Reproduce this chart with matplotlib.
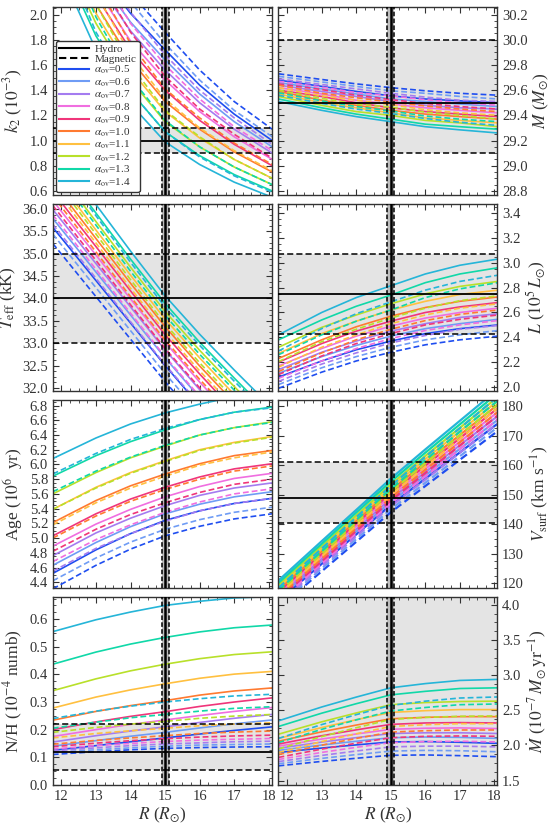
import matplotlib
matplotlib.use('Agg')
import matplotlib.pyplot as plt
from matplotlib.ticker import MultipleLocator, AutoMinorLocator
from matplotlib.lines import Line2D

plt.rcParams['font.family'] = ['Liberation Serif', 'DejaVu Serif']
plt.rcParams['mathtext.fontset'] = 'stix'

# ---------------- data ----------------
R_nodes = [11.75, 13, 14, 15, 16, 17, 18.1]
alphas = [0.5, 0.6, 0.7, 0.8, 0.9, 1.0, 1.1, 1.2, 1.3, 1.4]
colors = ['#1f4ef0', '#6f9cf5', '#a47cf0', '#f06ee0', '#f0357a',
          '#ff7a30', '#ffc040', '#b8e02a', '#10d8a8', '#25b5d8']

k2_hydro = [
    [2.90, 2.36, 2.01, 1.72, 1.44, 1.21, 1.00],
    [2.88, 2.32, 1.94, 1.64, 1.37, 1.15, 0.95],
    [2.86, 2.27, 1.87, 1.56, 1.30, 1.09, 0.90],
    [2.83, 2.21, 1.79, 1.48, 1.23, 1.03, 0.85],
    [2.80, 2.15, 1.72, 1.40, 1.16, 0.97, 0.80],
    [2.76, 2.08, 1.64, 1.31, 1.09, 0.91, 0.75],
    [2.72, 2.01, 1.56, 1.23, 1.02, 0.85, 0.70],
    [2.66, 1.93, 1.48, 1.15, 0.95, 0.79, 0.65],
    [2.58, 1.83, 1.39, 1.07, 0.88, 0.73, 0.60],
    [2.48, 1.72, 1.29, 0.99, 0.81, 0.67, 0.55]]
k2_mag = [
    [3.13, 2.55, 2.17, 1.86, 1.56, 1.31, 1.09],
    [3.11, 2.51, 2.10, 1.77, 1.48, 1.24, 1.03],
    [3.09, 2.45, 2.02, 1.68, 1.40, 1.18, 0.97],
    [3.06, 2.39, 1.93, 1.60, 1.33, 1.11, 0.92],
    [3.02, 2.32, 1.86, 1.51, 1.25, 1.05, 0.86],
    [2.98, 2.25, 1.77, 1.41, 1.18, 0.98, 0.81],
    [2.94, 2.17, 1.68, 1.33, 1.10, 0.92, 0.76],
    [2.87, 2.08, 1.60, 1.24, 1.03, 0.85, 0.70],
    [2.79, 1.98, 1.50, 1.16, 0.95, 0.79, 0.65],
    [2.68, 1.86, 1.39, 1.07, 0.87, 0.72, 0.59]]

mass_hydro = [
    [29.68, 29.63, 29.59, 29.555, 29.53, 29.515, 29.50],
    [29.66, 29.61, 29.57, 29.53, 29.51, 29.49, 29.47],
    [29.64, 29.59, 29.55, 29.51, 29.48, 29.46, 29.45],
    [29.62, 29.57, 29.52, 29.49, 29.46, 29.44, 29.42],
    [29.60, 29.55, 29.50, 29.46, 29.43, 29.41, 29.39],
    [29.59, 29.52, 29.48, 29.44, 29.41, 29.39, 29.37],
    [29.57, 29.50, 29.46, 29.42, 29.38, 29.36, 29.34],
    [29.55, 29.48, 29.43, 29.40, 29.36, 29.34, 29.31],
    [29.53, 29.46, 29.41, 29.37, 29.33, 29.31, 29.29],
    [29.51, 29.44, 29.39, 29.35, 29.31, 29.285, 29.26]]
mass_mag = [
    [29.73, 29.685, 29.65, 29.62, 29.595, 29.575, 29.56],
    [29.71, 29.665, 29.63, 29.595, 29.575, 29.55, 29.53],
    [29.69, 29.645, 29.61, 29.575, 29.545, 29.52, 29.51],
    [29.67, 29.625, 29.58, 29.555, 29.525, 29.50, 29.48],
    [29.65, 29.605, 29.56, 29.525, 29.495, 29.47, 29.45],
    [29.64, 29.575, 29.54, 29.505, 29.475, 29.45, 29.43],
    [29.62, 29.555, 29.52, 29.485, 29.445, 29.42, 29.40],
    [29.60, 29.535, 29.49, 29.465, 29.425, 29.40, 29.37],
    [29.58, 29.515, 29.47, 29.435, 29.395, 29.37, 29.35],
    [29.56, 29.495, 29.45, 29.415, 29.375, 29.345, 29.32]]

teff_hydro = [
    [35.59, 34.40, 33.45, 32.50, 31.60, 30.75, 29.80],
    [35.79, 34.59, 33.63, 32.67, 31.78, 30.93, 29.99],
    [35.99, 34.78, 33.81, 32.85, 31.96, 31.12, 30.19],
    [36.19, 34.97, 33.99, 33.02, 32.13, 31.30, 30.38],
    [36.39, 35.16, 34.17, 33.19, 32.31, 31.48, 30.58],
    [36.60, 35.34, 34.34, 33.37, 32.49, 31.67, 30.77],
    [36.80, 35.53, 34.52, 33.54, 32.67, 31.85, 30.97],
    [37.00, 35.72, 34.70, 33.71, 32.84, 32.03, 31.16],
    [37.20, 35.91, 34.88, 33.89, 33.02, 32.22, 31.36],
    [37.40, 36.10, 35.06, 34.06, 33.20, 32.40, 31.55]]
teff_mag = [
    [35.23, 34.04, 33.09, 32.14, 31.24, 30.39, 29.44],
    [35.44, 34.24, 33.28, 32.32, 31.43, 30.58, 29.64],
    [35.66, 34.45, 33.48, 32.52, 31.63, 30.79, 29.86],
    [35.87, 34.65, 33.67, 32.70, 31.81, 30.98, 30.06],
    [36.08, 34.85, 33.86, 32.88, 32.00, 31.17, 30.27],
    [36.30, 35.04, 34.04, 33.07, 32.19, 31.37, 30.47],
    [36.51, 35.24, 34.23, 33.25, 32.38, 31.56, 30.68],
    [36.72, 35.44, 34.42, 33.43, 32.56, 31.75, 30.88],
    [36.93, 35.64, 34.61, 33.62, 32.75, 31.95, 31.09],
    [37.15, 35.85, 34.81, 33.81, 32.95, 32.15, 31.30]]

lum_hydro = [
    [2.08, 2.21, 2.30, 2.37, 2.43, 2.47, 2.50],
    [2.11, 2.245, 2.335, 2.41, 2.47, 2.51, 2.545],
    [2.14, 2.28, 2.37, 2.45, 2.51, 2.56, 2.59],
    [2.17, 2.31, 2.41, 2.49, 2.555, 2.60, 2.635],
    [2.20, 2.35, 2.45, 2.53, 2.60, 2.645, 2.68],
    [2.23, 2.38, 2.485, 2.57, 2.64, 2.69, 2.725],
    [2.27, 2.43, 2.53, 2.62, 2.69, 2.745, 2.78],
    [2.32, 2.48, 2.58, 2.67, 2.75, 2.81, 2.85],
    [2.38, 2.54, 2.65, 2.74, 2.84, 2.91, 2.96],
    [2.42, 2.60, 2.72, 2.815, 2.91, 2.98, 3.03]]
lum_mag = [
    [1.99, 2.12, 2.21, 2.28, 2.34, 2.38, 2.41],
    [2.02, 2.155, 2.245, 2.32, 2.38, 2.42, 2.455],
    [2.045, 2.185, 2.275, 2.355, 2.415, 2.465, 2.495],
    [2.07, 2.21, 2.31, 2.39, 2.455, 2.50, 2.535],
    [2.10, 2.25, 2.35, 2.43, 2.50, 2.545, 2.58],
    [2.125, 2.275, 2.38, 2.465, 2.535, 2.585, 2.62],
    [2.16, 2.32, 2.42, 2.51, 2.58, 2.635, 2.67],
    [2.205, 2.365, 2.465, 2.555, 2.635, 2.695, 2.735],
    [2.26, 2.42, 2.53, 2.62, 2.72, 2.79, 2.84],
    [2.29, 2.47, 2.59, 2.685, 2.78, 2.85, 2.90]]

age_hydro = [
    [4.52, 4.84, 5.06, 5.24, 5.37, 5.47, 5.54],
    [4.63, 4.94, 5.155, 5.33, 5.46, 5.56, 5.63],
    [4.76, 5.07, 5.27, 5.44, 5.58, 5.68, 5.75],
    [4.89, 5.19, 5.39, 5.56, 5.70, 5.81, 5.88],
    [5.03, 5.33, 5.53, 5.69, 5.83, 5.94, 6.01],
    [5.21, 5.51, 5.71, 5.87, 6.01, 6.12, 6.19],
    [5.39, 5.69, 5.89, 6.05, 6.20, 6.30, 6.38],
    [5.60, 5.89, 6.09, 6.25, 6.40, 6.50, 6.58],
    [5.84, 6.12, 6.31, 6.47, 6.61, 6.71, 6.78],
    [6.08, 6.36, 6.55, 6.70, 6.82, 6.92, 6.98]]
age_mag = [
    [4.31, 4.63, 4.85, 5.03, 5.16, 5.26, 5.33],
    [4.42, 4.73, 4.945, 5.12, 5.25, 5.35, 5.42],
    [4.55, 4.86, 5.06, 5.23, 5.37, 5.47, 5.54],
    [4.68, 4.98, 5.18, 5.35, 5.49, 5.60, 5.67],
    [4.82, 5.12, 5.32, 5.48, 5.62, 5.73, 5.80],
    [5.00, 5.30, 5.50, 5.66, 5.80, 5.91, 5.98],
    [5.18, 5.48, 5.68, 5.84, 5.99, 6.09, 6.17],
    [5.39, 5.68, 5.88, 6.04, 6.19, 6.29, 6.37],
    [5.63, 5.91, 6.10, 6.26, 6.40, 6.50, 6.57],
    [5.87, 6.15, 6.34, 6.49, 6.61, 6.71, 6.77]]

vsurf_hydro = [
    [114.0, 126.5, 136.5, 146.5, 155.4, 164.3, 174.1],
    [114.8, 127.4, 137.4, 147.5, 156.5, 165.5, 175.4],
    [115.5, 128.2, 138.3, 148.5, 157.6, 166.7, 176.7],
    [116.3, 129.1, 139.3, 149.5, 158.7, 167.9, 178.0],
    [117.1, 129.9, 140.2, 150.5, 159.8, 169.1, 179.3],
    [117.8, 130.8, 141.1, 151.4, 160.9, 170.2, 180.5],
    [118.6, 131.6, 142.0, 152.4, 162.0, 171.4, 181.8],
    [119.4, 132.5, 142.9, 153.4, 163.1, 172.6, 183.1],
    [120.1, 133.3, 143.9, 154.4, 164.2, 173.8, 184.4],
    [120.9, 134.2, 144.8, 155.4, 165.3, 175.0, 185.7]]
vsurf_mag = [
    [111.5, 124.0, 134.0, 144.0, 152.9, 161.8, 171.6],
    [112.3, 124.9, 134.9, 145.0, 154.0, 163.0, 172.9],
    [113.0, 125.7, 135.8, 146.0, 155.1, 164.2, 174.2],
    [113.8, 126.6, 136.8, 147.0, 156.2, 165.4, 175.5],
    [114.6, 127.4, 137.7, 148.0, 157.3, 166.6, 176.8],
    [115.3, 128.3, 138.6, 148.9, 158.4, 167.7, 178.0],
    [116.1, 129.1, 139.5, 149.9, 159.5, 168.9, 179.3],
    [116.9, 130.0, 140.4, 150.9, 160.6, 170.1, 180.6],
    [117.6, 130.8, 141.4, 151.9, 161.7, 171.3, 181.9],
    [118.4, 131.7, 142.3, 152.9, 162.8, 172.5, 183.2]]

nh_hydro = [
    [0.125, 0.142, 0.156, 0.170, 0.184, 0.197, 0.210],
    [0.140, 0.160, 0.176, 0.190, 0.206, 0.221, 0.235],
    [0.155, 0.178, 0.195, 0.210, 0.226, 0.241, 0.255],
    [0.175, 0.200, 0.219, 0.235, 0.251, 0.266, 0.280],
    [0.200, 0.228, 0.248, 0.265, 0.284, 0.300, 0.315],
    [0.234, 0.266, 0.287, 0.305, 0.325, 0.340, 0.351],
    [0.278, 0.318, 0.344, 0.366, 0.386, 0.401, 0.411],
    [0.341, 0.384, 0.413, 0.437, 0.457, 0.472, 0.482],
    [0.437, 0.481, 0.510, 0.534, 0.554, 0.569, 0.579],
    [0.555, 0.598, 0.626, 0.650, 0.665, 0.677, 0.682]]
nh_mag = [
    [0.110, 0.120, 0.127, 0.132, 0.135, 0.137, 0.138],
    [0.117, 0.127, 0.134, 0.140, 0.144, 0.146, 0.148],
    [0.123, 0.134, 0.142, 0.148, 0.152, 0.156, 0.158],
    [0.130, 0.142, 0.150, 0.157, 0.162, 0.165, 0.168],
    [0.138, 0.151, 0.160, 0.167, 0.173, 0.177, 0.180],
    [0.147, 0.161, 0.170, 0.178, 0.186, 0.191, 0.195],
    [0.170, 0.186, 0.196, 0.205, 0.214, 0.220, 0.225],
    [0.190, 0.208, 0.220, 0.230, 0.241, 0.249, 0.255],
    [0.205, 0.227, 0.243, 0.255, 0.267, 0.277, 0.283],
    [0.240, 0.267, 0.285, 0.300, 0.312, 0.322, 0.328]]

mdot_hydro = [
    [1.90, 1.963, 2.008, 2.05, 2.055, 2.045, 2.03],
    [1.93, 2.006, 2.06, 2.11, 2.12, 2.115, 2.10],
    [1.96, 2.048, 2.111, 2.17, 2.18, 2.18, 2.17],
    [1.99, 2.091, 2.163, 2.23, 2.245, 2.25, 2.24],
    [2.02, 2.138, 2.222, 2.30, 2.32, 2.325, 2.32],
    [2.06, 2.194, 2.290, 2.38, 2.40, 2.41, 2.41],
    [2.10, 2.255, 2.366, 2.47, 2.495, 2.51, 2.51],
    [2.16, 2.336, 2.462, 2.58, 2.61, 2.625, 2.63],
    [2.27, 2.459, 2.594, 2.72, 2.77, 2.81, 2.82],
    [2.35, 2.547, 2.688, 2.82, 2.88, 2.925, 2.94]]
mdot_mag = [
    [1.71, 1.773, 1.818, 1.86, 1.865, 1.855, 1.84],
    [1.74, 1.816, 1.87, 1.92, 1.93, 1.925, 1.91],
    [1.77, 1.858, 1.921, 1.98, 1.99, 1.99, 1.98],
    [1.80, 1.901, 1.973, 2.04, 2.055, 2.06, 2.05],
    [1.83, 1.948, 2.032, 2.11, 2.13, 2.135, 2.13],
    [1.87, 2.004, 2.10, 2.19, 2.21, 2.22, 2.22],
    [1.90, 2.055, 2.166, 2.27, 2.295, 2.31, 2.31],
    [1.95, 2.126, 2.252, 2.37, 2.40, 2.415, 2.42],
    [2.04, 2.229, 2.364, 2.49, 2.54, 2.58, 2.59],
    [2.10, 2.297, 2.438, 2.57, 2.63, 2.675, 2.69]]

# observed constraints (low, best, high)
R_obs = (14.9, 15.0, 15.1)
k2_obs = (0.9, 1.0, 1.1)
mass_obs = (29.1, 29.5, 30.0)
teff_obs = (33.0, 34.0, 35.0)
lum_obs = (2.43, 2.75, 3.07)
vsurf_obs = (140.5, 149.0, 161.0)
nh_obs = (0.055, 0.12, 0.22)
mdot_obs = (1.0, 3.0, 6.0)

# ---------------- figure ----------------
fig = plt.figure(figsize=(5.5, 8.27), dpi=100)
gs = fig.add_gridspec(4, 2, left=0.096, right=0.904, top=0.9915, bottom=0.051,
                      hspace=0.048, wspace=0.032)

panels = [
    (0, 0, k2_hydro, k2_mag, (0.57, 2.06), 0.2, r'$k_2$ ($10^{-3}$)', k2_obs, True, 1.2),
    (0, 1, mass_hydro, mass_mag, (28.77, 30.26), 0.2, r'$M$ ($M_{\odot}$)', mass_obs, True, 1.2),
    (1, 0, teff_hydro, teff_mag, (31.92, 36.12), 0.5, r'$T_{\rm eff}$ (kK)', teff_obs, True, 1.2),
    (1, 1, lum_hydro, lum_mag, (1.965, 3.475), 0.2, r'$L$ ($10^5\,L_{\odot}$)', lum_obs, True, 1.2),
    (2, 0, age_hydro, age_mag, (4.32, 6.87), 0.2, r'Age ($10^6$  yr)', None, True, 1.2),
    (2, 1, vsurf_hydro, vsurf_mag, (118.3, 181.9), 10, r'$V_{\rm surf}$ (km s$^{-1}$)', vsurf_obs, True, 1.6),
    (3, 0, nh_hydro, nh_mag, (0.0, 0.68), 0.1, r'N/H ($10^{-4}$ numb)', nh_obs, True, 1.2),
    (3, 1, mdot_hydro, mdot_mag, (1.44, 4.11), 0.5, r'$\dot{M}$ ($10^{-7}\,M_{\odot}\,{\rm yr}^{-1}$)', mdot_obs, False, 1.2),
]

tick_fs = 10.5
label_fs = 12.5
first_ax = None
for row, col, hyd, mag, ylim, ystep, ylabel, obs, draw_lines, lw in panels:
    ax = fig.add_subplot(gs[row, col])
    if first_ax is None:
        first_ax = ax
    if obs is not None:
        ax.axhspan(obs[0], obs[2], color='#e4e4e4', zorder=0, lw=0)
        if draw_lines:
            ax.axhline(obs[1], color='k', lw=1.3, zorder=4)
            ax.axhline(obs[0], color='k', lw=1.1, ls=(0, (4, 2)), zorder=4)
            ax.axhline(obs[2], color='k', lw=1.1, ls=(0, (4, 2)), zorder=4)
    ax.axvspan(R_obs[0], R_obs[2], color='#bdbdbd', zorder=0.5, lw=0)
    ax.axvline(R_obs[1], color='k', lw=1.8, zorder=5)
    ax.axvline(R_obs[0], color='k', lw=1.1, ls=(0, (3, 1.5)), zorder=5)
    ax.axvline(R_obs[2], color='k', lw=1.1, ls=(0, (3, 1.5)), zorder=5)
    for i in range(len(alphas)):
        ax.plot(R_nodes, hyd[i], color=colors[i], lw=lw, ls='-', zorder=2)
        ax.plot(R_nodes, mag[i], color=colors[i], lw=lw, ls=(0, (3.5, 1.8)), zorder=2)
    ax.set_xlim(11.75, 18.08)
    ax.set_ylim(*ylim)
    ax.xaxis.set_major_locator(MultipleLocator(1))
    ax.xaxis.set_minor_locator(AutoMinorLocator(4))
    ax.yaxis.set_major_locator(MultipleLocator(ystep))
    ax.yaxis.set_minor_locator(AutoMinorLocator(4))
    ax.tick_params(which='both', direction='in', top=True, bottom=True,
                   left=True, right=True, labelsize=tick_fs, colors='#333333',
                   labelcolor='#333333')
    ax.tick_params(which='major', length=4.5, width=0.8)
    ax.tick_params(which='minor', length=2.3, width=0.6)
    for sp in ax.spines.values():
        sp.set_color('#333333')
        sp.set_linewidth(1.0)
    if col == 1:
        ax.yaxis.set_label_position('right')
        ax.tick_params(axis='y', labelleft=False, labelright=True)
    ax.set_ylabel(ylabel, fontsize=label_fs, color='#333333', labelpad=3)
    if row == 3:
        ax.set_xlabel(r'$R$ ($R_{\odot}$)', fontsize=label_fs, color='#333333', labelpad=2)
    else:
        ax.tick_params(axis='x', labelbottom=False)

handles = [Line2D([], [], color='k', lw=1.5, ls='-', label='Hydro'),
           Line2D([], [], color='k', lw=1.5, ls=(0, (3.5, 1.8)), label='Magnetic')]
for a, c in zip(alphas, colors):
    handles.append(Line2D([], [], color=c, lw=1.5, label=r'$\alpha_{\rm ov}$=%.1f' % a))
leg = first_ax.legend(handles=handles, loc='lower left', fontsize=8,
                      frameon=True, framealpha=1.0, edgecolor='#333333',
                      borderaxespad=0.25, handlelength=2.7, labelspacing=0.0,
                      borderpad=0.3, handletextpad=0.5)
leg.set_zorder(10)
for t in leg.get_texts():
    t.set_color('#333333')

fig.savefig('out.png', dpi=100)
